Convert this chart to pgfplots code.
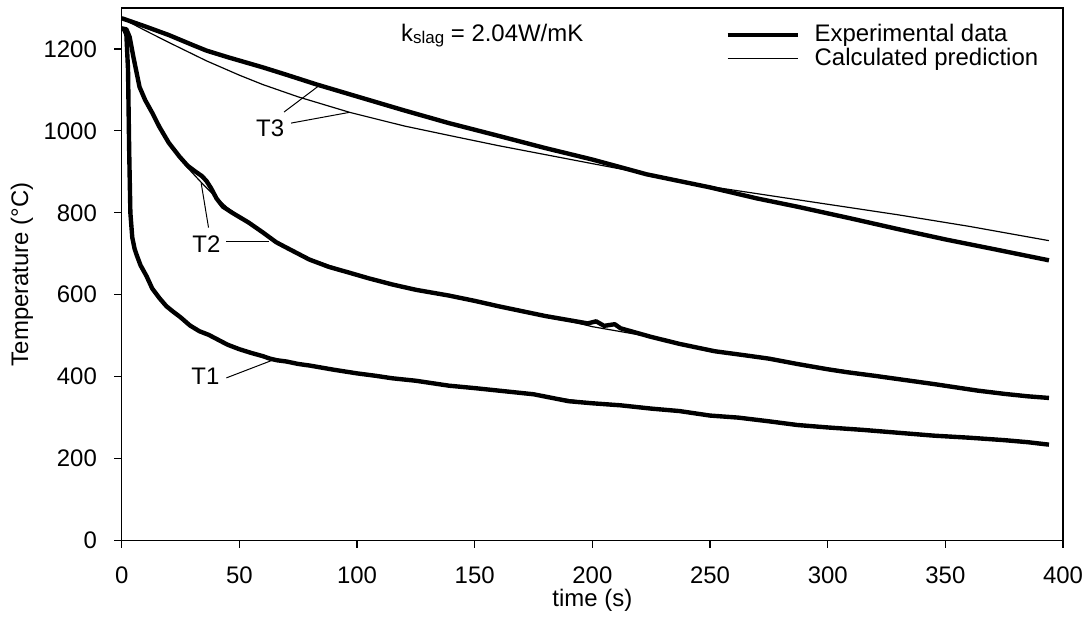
\documentclass[border=0pt]{standalone}
\usepackage{fontspec}
\setmainfont{Liberation Sans}
\usepackage{pgfplots}
\pgfplotsset{compat=1.18}
\begin{document}
\fontsize{12}{14}\selectfont
\begin{tikzpicture}
\begin{axis}[
  scale only axis, width=472pt, height=267pt,
  at={(0,0)}, anchor=south west,
  xmin=0, xmax=400, ymin=0, ymax=1300,
  xtick={0,50,...,400}, ytick={0,200,...,1200},
  tick align=outside, major tick length=3.75pt,
  xtick pos=bottom, ytick pos=left,
  axis line style={line width=0.6pt},
  every tick/.style={black, line width=0.6pt},
  /pgf/number format/1000 sep={},
  /pgf/number format/assume math mode=true,
  tick label style={font=\fontsize{12}{14}\selectfont},
  label style={font=\fontsize{12}{14}\selectfont},
  yticklabel style={xshift=-4.5pt},
  xticklabel style={yshift=-5pt},
  xlabel={time (s)}, ylabel={Temperature (°C)},
  xlabel style={at={(axis description cs:0.5,-0.112)}, anchor=center},
  ylabel style={at={(axis description cs:-0.106,0.5)}, anchor=center},
  legend cell align=left,
  legend image code/.code={\draw[#1] (0pt,0pt) -- (35pt,0pt);},
  legend style={draw=none, fill=none, at={(axis description cs:0.641,0.972)}, anchor=north west,
    inner sep=0pt, row sep=0.5pt, nodes={inner sep=0.5pt, font=\fontsize{12}{14}\selectfont},
    /tikz/every odd column/.append style={column sep=7pt}},
  clip=false,
]
% T1 experimental
\addplot[black, line width=2.2pt, line join=round] coordinates {
(0,1250)(1,1248)(2,1235)(2.7,1150)(3.2,950)(3.7,800)(4.5,740)(5.5,712)(6.5,695)(8,672)
(10.6,645)(13,615)(16,592)(19,572)(22,558)(25,545)(29,525)(33,511)(37,502)(41,490)
(45,478)(50,467)(55,458)(60,450)(63,444)(66,440)(70,437)(75,431)(80,427)(90,417)
(100,408)(108,402)(115,396)(125,390)(139,378)(150,372)(160,366)(175,357)(190,340)
(200,335)(212,330)(225,322)(237,316)(250,305)(262,300)(275,291)(287,282)(300,276)
(315,270)(330,263)(345,256)(360,251)(375,245)(385,240)(394,234)};
\addlegendentry{Experimental data}
% T1 calculated
\addplot[black, line width=0.6pt] coordinates {
(0,1250)(2,1240)(2.8,1100)(3.3,900)(3.8,790)(4.5,740)(6,700)(8,670)(10.6,643)(13,615)
(16,591)(19,572)(25,545)(33,512)(41,490)(50,467)(60,450)(70,437)(80,426)(100,408)
(125,390)(150,372)(175,356)(200,336)(225,322)(250,306)(275,292)(300,277)(330,263)
(360,250)(394,235)};
\addlegendentry{Calculated prediction}
% T2 experimental
\addplot[black, line width=2.2pt, line join=round, forget plot] coordinates {
(0,1250)(2,1248)(3.4,1229)(5,1180)(7.6,1107)(10,1075)(13,1044)(16,1010)(20,971)
(24.6,937)(28,915)(31,902)(34,890)(36,878)(38,860)(40.3,835)(43,815)(47,800)(54,776)
(60,752)(65.7,728)(70,715)(79.7,686)(88,668)(96.6,654)(105,640)(115,625)(125,612)
(139,598)(150,585)(160,572)(170,560)(180,548)(190,538)(198,530)(201.6,535)(205,524)
(209.5,528)(212,518)(225,497)(237,480)(252,462)(265,452)(275,444)(287,431)(300,418)
(308,411)(320,402)(330,394)(345,382)(363.6,366)(375,358)(385,352)(394,348)};
% T2 calculated
\addplot[black, line width=0.6pt, forget plot] coordinates {
(0,1250)(3,1240)(5,1185)(7.6,1107)(10,1075)(13,1042)(16,1008)(20,970)(24.6,935)
(28,910)(34,873)(40,838)(45,812)(54,776)(65.7,728)(79.7,688)(96.6,655)(115,626)
(139,598)(160,573)(180,550)(200,522)(225,497)(252,462)(287,432)(330,395)(363.6,367)
(394,348)};
% T3 experimental
\addplot[black, line width=2.2pt, line join=round, forget plot] coordinates {
(0,1275)(10,1255)(20,1234)(30,1210)(36,1196)(45,1180)(60,1155)(70,1137)(83,1113)
(100,1084)(120,1050)(139,1019)(160,988)(180,958)(200,930)(223,894)(250,862)(270,835)
(287,815)(310,786)(330,760)(350,735)(370,712)(394,684)};
% T3 calculated
\addplot[black, line width=0.6pt, forget plot] coordinates {
(0,1275)(10,1245)(20,1216)(36,1171)(50,1136)(60,1113)(75,1083)(97,1045)(120,1012)
(139,989)(160,964)(180,942)(200,920)(223,895)(250,864)(287,832)(330,795)(360,767)
(394,732)};
% annotations
\node at (axis cs:63.1,1007) {T3};
\draw[line width=0.5pt] (axis cs:69,1046) -- (axis cs:84,1111);
\draw[line width=0.5pt] (axis cs:72,1019) -- (axis cs:96.6,1045);
\node at (axis cs:36,723) {T2};
\draw[line width=0.5pt] (axis cs:44.5,730) -- (axis cs:62.7,730);
\draw[line width=0.5pt] (axis cs:36.9,764) -- (axis cs:33.8,872);
\node at (axis cs:35.6,401) {T1};
\draw[line width=0.5pt] (axis cs:44.5,397) -- (axis cs:64,440);
\node[anchor=west, inner sep=0pt] at (axis cs:118.6,1232)
  {k{\fontsize{8.5}{9}\selectfont\raisebox{-0.2ex}{slag}} = 2.04W/mK};
\end{axis}
\path (-61pt,-47pt) rectangle (484.5pt,271pt);
\end{tikzpicture}
\end{document}
